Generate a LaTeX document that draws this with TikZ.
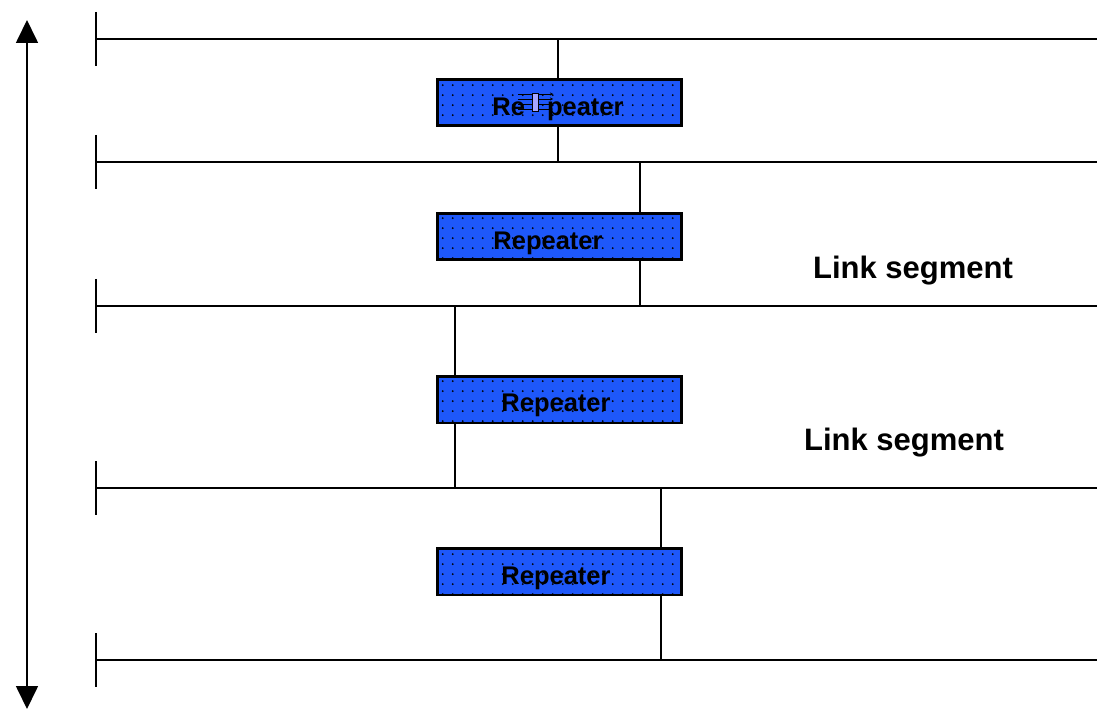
\documentclass[tikz,border=0pt]{standalone}
\usepackage{fontspec}
\setmainfont{Liberation Sans}
\usetikzlibrary{arrows.meta,patterns.meta}
\definecolor{repblue}{RGB}{30,88,250}
\pgfdeclarepattern{
  name=bigdots, type=uncolored,
  bottom left={\pgfpoint{0pt}{0pt}}, top right={\pgfpoint{10.2pt}{10.2pt}},
  tile size={\pgfpoint{10.2pt}{10.2pt}},
  code={\pgfpathcircle{\pgfpoint{5.1pt}{5.1pt}}{1.1pt}\pgfusepath{fill}}
}
\begin{document}
\begin{tikzpicture}[x=1pt,y=-1pt,
  bus/.style={line width=1.7pt,draw=black},
  tick/.style={line width=1.7pt,draw=black},
  link/.style={line width=1.7pt,draw=black},
  repbox/.style={draw=black,line width=1.7pt,fill=repblue,minimum width=243pt,minimum height=45.5pt,inner sep=0pt,anchor=north west},
  replabel/.style={font=\bfseries\fontsize{25.5}{28}\selectfont,inner sep=0pt},
  seglabel/.style={font=\bfseries\fontsize{31}{34}\selectfont,inner sep=0pt}]
\useasboundingbox (0,0) rectangle (1097,711);
% vertical double arrow
\coordinate (top) at (27,20);
\coordinate (bot) at (27,709);
\draw[line width=1.7pt,{Triangle[length=23pt,width=22pt]}-{Triangle[length=23pt,width=22pt]}] (top) -- (bot);
% buses
\foreach \n/\y in {1/39,2/162,3/306,4/488,5/660}{
  \coordinate (L\n) at (96,\y);
  \coordinate (R\n) at (1097,\y);
  \coordinate (T\n) at (96,\y-27);
  \coordinate (B\n) at (96,\y+27);
  \draw[bus] (L\n) -- (R\n);
  \draw[tick] (T\n) -- (B\n);
}
% vertical links
\coordinate (a1) at (558,39);  \coordinate (a2) at (558,162);
\coordinate (b1) at (640,162); \coordinate (b2) at (640,306);
\coordinate (c1) at (455,306); \coordinate (c2) at (455,488);
\coordinate (d1) at (661,488); \coordinate (d2) at (661,660);
\draw[link] (a1) -- (a2);
\draw[link] (b1) -- (b2);
\draw[link] (c1) -- (c2);
\draw[link] (d1) -- (d2);
% repeaters
\foreach \n/\y in {1/79,2/213,3/376,4/548}{
  \node[repbox] (r\n) at (437,\y) {};
  \fill[pattern={bigdots},pattern color=black] (r\n.north west) rectangle (r\n.south east);
  \draw[line width=1.7pt] (r\n.north west) rectangle (r\n.south east);
}
\node[replabel] (t1) at (558,109) {Re\hspace{22pt}peater};
\node[replabel] (t2) at (548,243) {Repeater};
\node[replabel] (t3) at (556,405) {Repeater};
\node[replabel] (t4) at (556,578) {Repeater};
% small icon in first label
\foreach \k in {-8,-3,2,7}{
  \draw[line width=0.7pt,-{Stealth[length=3pt,width=3pt]}] (518,102+\k) -- (553,102+\k);
}
\node[draw=black,line width=0.6pt,fill=blue!35,minimum width=6pt,minimum height=18pt,inner sep=0pt] (ic) at (535,102) {};
% link segment labels
\node[seglabel] (s1) at (913,271) {Link segment};
\node[seglabel] (s2) at (904,443) {Link segment};
\end{tikzpicture}
\end{document}
